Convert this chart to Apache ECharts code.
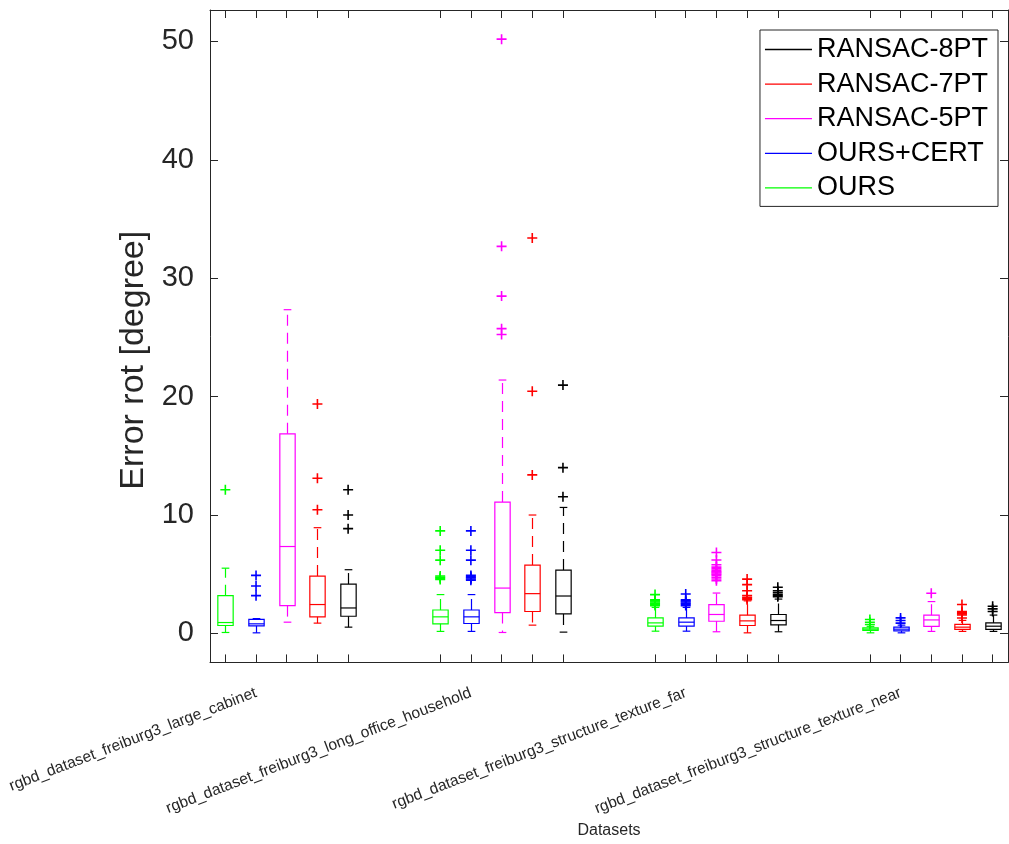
<!DOCTYPE html>
<html>
<head>
<meta charset="utf-8">
<script src="https://cdn.jsdelivr.net/npm/echarts@6/dist/echarts.min.js"></script>
<style>
html,body{margin:0;padding:0;background:#fff;}
#chart{width:1009px;height:844px;}
</style>
</head>
<body>
<div id="chart"></div>
<script>
// ---- data ----
const datasets = [
  'rgbd_dataset_freiburg3_large_cabinet',
  'rgbd_dataset_freiburg3_long_office_household',
  'rgbd_dataset_freiburg3_structure_texture_far',
  'rgbd_dataset_freiburg3_structure_texture_near'
];
const methods = ['OURS', 'OURS+CERT', 'RANSAC-5PT', 'RANSAC-7PT', 'RANSAC-8PT'];
const legendOrder = ['RANSAC-8PT', 'RANSAC-7PT', 'RANSAC-5PT', 'OURS+CERT', 'OURS'];
const yTicks = [0, 10, 20, 30, 40, 50];

// box stats per dataset: [lower whisker, q1, median, q3, upper whisker]
const boxOURS = [
  [0.08, 0.67, 0.92, 3.19, 5.51],
  [0.17, 0.81, 1.40, 1.98, 3.28],
  [0.19, 0.61, 0.89, 1.31, 2.20],
  [0.05, 0.25, 0.36, 0.47, 0.60]
];
const boxOURSCERT = [
  [0.05, 0.64, 0.81, 1.18, 1.25],
  [0.17, 0.84, 1.40, 1.98, 3.28],
  [0.19, 0.61, 0.95, 1.31, 2.20],
  [0.05, 0.22, 0.36, 0.53, 0.70]
];
const boxRANSAC5 = [
  [0.95, 2.35, 7.34, 16.86, 27.34],
  [0.08, 1.76, 3.83, 11.09, 21.40],
  [0.14, 1.03, 1.60, 2.44, 3.41],
  [0.17, 0.59, 1.14, 1.54, 2.69]
];
const boxRANSAC7 = [
  [0.87, 1.40, 2.44, 4.84, 8.93],
  [0.70, 1.85, 3.36, 5.77, 10.00],
  [0.05, 0.67, 1.06, 1.54, 2.75],
  [0.17, 0.34, 0.53, 0.76, 1.10]
];
const boxRANSAC8 = [
  [0.53, 1.45, 2.15, 4.17, 5.38],
  [0.11, 1.65, 3.16, 5.35, 10.64],
  [0.14, 0.73, 1.09, 1.60, 2.90],
  [0.17, 0.34, 0.61, 0.89, 1.55]
];

// outliers per dataset
const outOURS = [
  [12.13],
  [8.66, 7.03, 6.19, 4.85, 4.75, 4.65, 4.55],
  [3.28, 2.85, 2.75, 2.65, 2.55, 2.45, 2.35],
  [1.18, 0.95, 0.75]
];
const outOURSCERT = [
  [4.90, 4.00, 3.19],
  [8.66, 7.03, 6.19, 4.90, 4.80, 4.70, 4.60, 4.50],
  [3.33, 2.85, 2.75, 2.65, 2.55, 2.45, 2.35],
  [1.31, 1.09, 0.87]
];
const outRANSAC5 = [
  [],
  [50.19, 32.69, 28.49, 25.74, 25.24],
  [6.83, 6.20, 5.80, 5.60, 5.45, 5.30, 5.20, 5.10, 5.00, 4.90, 4.75, 4.60, 4.45],
  [3.39]
];
const outRANSAC7 = [
  [19.38, 13.11, 10.45],
  [33.39, 20.45, 13.39],
  [4.59, 4.12, 3.61, 3.20, 3.05, 2.95, 2.85],
  [2.44, 1.85, 1.75, 1.65, 1.55, 1.30]
];
const outRANSAC8 = [
  [12.13, 10.00, 8.85],
  [20.97, 14.00, 11.54],
  [3.90, 3.60, 3.45, 3.30, 3.20, 3.10],
  [2.30, 2.07, 1.85]
];

const boxes = [boxOURS, boxOURSCERT, boxRANSAC5, boxRANSAC7, boxRANSAC8];
const outliers = [outOURS, outOURSCERT, outRANSAC5, outRANSAC7, outRANSAC8];

// ---- style ----
const colors = ['#00ff00', '#0000ff', '#ff00ff', '#ff0000', '#000000'];
const axisColor = '#262626';
const FONT = "'Liberation Sans', Arial, Helvetica, sans-serif";
const GROUP_STRIDE = 7; // 5 boxes + 2 empty slots
const nSlots = datasets.length * GROUP_STRIDE - 2;
const categories = [];
for (let i = 0; i < nSlots; i++) categories.push(String(i + 1));
const isBoxSlot = (i) => (i % GROUP_STRIDE) < methods.length;
const labelAt = {};
datasets.forEach((d, di) => { labelAt[di * GROUP_STRIDE + 1] = d; });

const crossPath = 'path://M4.2,0H5.8V4.2H10V5.8H5.8V10H4.2V5.8H0V4.2H4.2Z';

const series = [];
methods.forEach((m, mi) => {
  const col = colors[mi];
  series.push({
    name: m,
    type: 'custom',
    itemStyle: { color: col },
    data: boxes[mi].map((b, di) => [di * GROUP_STRIDE + mi].concat(b)),
    renderItem: function (params, api) {
      const x = api.value(0);
      const lo = api.coord([x, api.value(1)]);
      const q1 = api.coord([x, api.value(2)]);
      const md = api.coord([x, api.value(3)]);
      const q3 = api.coord([x, api.value(4)]);
      const hi = api.coord([x, api.value(5)]);
      const band = api.size([1, 0])[0];
      const hw = band * 0.25, cw = band * 0.125;
      const cx = Math.round(lo[0]) + 0.5;
      const st = { stroke: col, lineWidth: 1.2, fill: null };
      const dash = { stroke: col, lineWidth: 1.2, lineDash: [11, 7] };
      return {
        type: 'group',
        children: [
          { type: 'line', shape: { x1: cx, y1: q3[1], x2: cx, y2: hi[1] }, style: dash },
          { type: 'line', shape: { x1: cx, y1: q1[1], x2: cx, y2: lo[1] }, style: dash },
          { type: 'line', shape: { x1: cx - cw, y1: hi[1], x2: cx + cw, y2: hi[1] }, style: st },
          { type: 'line', shape: { x1: cx - cw, y1: lo[1], x2: cx + cw, y2: lo[1] }, style: st },
          { type: 'rect', shape: { x: cx - hw, y: q3[1], width: 2 * hw, height: q1[1] - q3[1] }, style: st },
          { type: 'line', shape: { x1: cx - hw, y1: md[1], x2: cx + hw, y2: md[1] }, style: st }
        ]
      };
    },
    z: 3
  });
});
methods.forEach((m, mi) => {
  const pts = [];
  outliers[mi].forEach((arr, di) => arr.forEach(v => pts.push([di * GROUP_STRIDE + mi, v])));
  series.push({
    name: m,
    type: 'scatter',
    symbol: crossPath,
    symbolSize: 10,
    itemStyle: { color: colors[mi], opacity: 1 },
    data: pts,
    silent: true,
    z: 4
  });
});

const yAxisCommon = {
  type: 'value',
  min: -2.45,
  max: 52.65,
  splitNumber: 5,
  axisLine: { show: true, onZero: false, lineStyle: { color: axisColor, width: 1 } },
  axisTick: { show: true, inside: true, length: 8, lineStyle: { color: axisColor } },
  splitLine: { show: false }
};

const chart = echarts.init(document.getElementById('chart'), null, { renderer: 'canvas' });
chart.setOption({
  animation: false,
  backgroundColor: '#ffffff',
  textStyle: { fontFamily: FONT },
  grid: { left: 210, right: 1, top: 10, bottom: 179, containLabel: false },
  legend: {
    data: legendOrder,
    orient: 'vertical',
    right: 11,
    top: 30,
    icon: 'rect',
    itemWidth: 47,
    itemHeight: 1.3,
    itemGap: 7.6,
    padding: [6, 10, 5, 5],
    backgroundColor: '#ffffff',
    borderColor: axisColor,
    borderWidth: 1,
    borderRadius: 0,
    selectedMode: false,
    textStyle: { fontFamily: FONT, fontSize: 27, color: '#000000' }
  },
  xAxis: [
    {
      type: 'category',
      data: categories,
      boundaryGap: true,
      axisLine: { show: true, onZero: false, lineStyle: { color: axisColor, width: 1 } },
      axisTick: { show: true, inside: true, length: 8, alignWithLabel: true,
        interval: (i) => isBoxSlot(i), lineStyle: { color: axisColor } },
      axisLabel: {
        interval: (i) => labelAt[i] !== undefined,
        formatter: (v, i) => labelAt[i] || '',
        rotate: 21,
        margin: 30,
        fontSize: 15.6,
        color: axisColor,
        fontFamily: FONT
      },
      splitLine: { show: false },
      name: 'Datasets',
      nameLocation: 'middle',
      nameGap: 157,
      nameTextStyle: { fontSize: 16, color: axisColor, fontFamily: FONT }
    },
    {
      type: 'category',
      position: 'top',
      data: categories,
      boundaryGap: true,
      axisLine: { show: true, onZero: false, lineStyle: { color: axisColor, width: 1 } },
      axisTick: { show: true, inside: true, length: 8, alignWithLabel: true,
        interval: (i) => isBoxSlot(i), lineStyle: { color: axisColor } },
      axisLabel: { show: false },
      splitLine: { show: false }
    }
  ],
  yAxis: [
    Object.assign({}, yAxisCommon, {
      axisLabel: {
        showMinLabel: false, showMaxLabel: false,
        formatter: (v) => (yTicks.indexOf(v) >= 0 ? String(v) : ''),
        margin: 16, fontSize: 29, color: axisColor, fontFamily: FONT
      },
      name: 'Error rot [degree]',
      nameLocation: 'middle',
      nameGap: 56,
      nameTextStyle: { fontSize: 34, color: axisColor, fontFamily: FONT, padding: [0, 48, 0, 0] }
    }),
    Object.assign({}, yAxisCommon, {
      position: 'right',
      axisLabel: { show: false }
    })
  ],
  series: series
});
</script>
</body>
</html>
